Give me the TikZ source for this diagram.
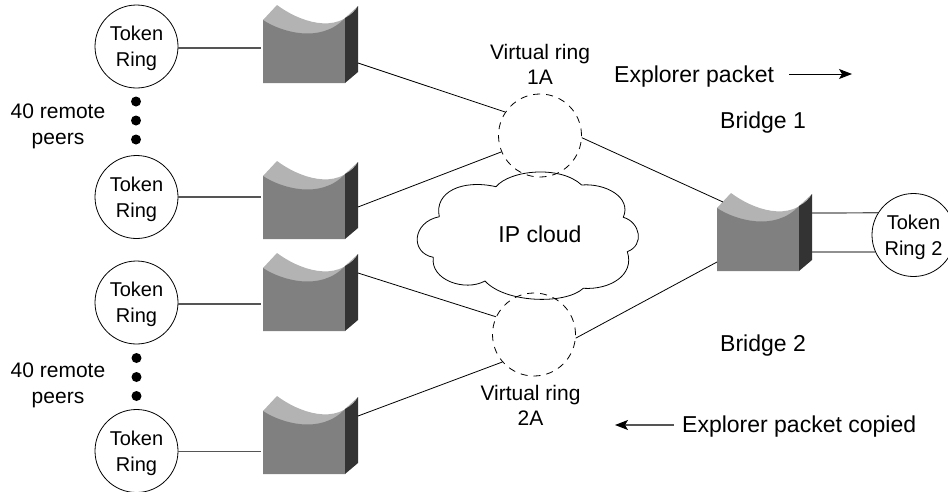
\documentclass[tikz,border=0pt]{standalone}
\usepackage{fontspec}
\setmainfont{Liberation Sans}
\usetikzlibrary{arrows.meta}
\definecolor{routerfront}{HTML}{808080}
\definecolor{routertop}{HTML}{B3B3B3}
\definecolor{routerside}{HTML}{333333}
\definecolor{lanline}{HTML}{555555}
\newcommand{\router}[5]{
    \begin{scope}[shift={(#2,#3)}]
    \fill[routertop](0,0)--(14,-15) .. controls (34,0) and (74,17) .. (95,-14)--(82,-2)--(82,20)--(0,20)--cycle;
    \fill[routerfront](0,0) .. controls (18,12) and (58,24) .. (82,-2)--(82,63)--(0,63)--cycle;
    \fill[routerside](82,-2) .. controls (88,-5) and (92,-9) .. (95,-14)--(95,52)--(82,63)--cycle;
    \coordinate (#1w) at (-2,#4);
    \coordinate (#1e) at (95,#5);
    \end{scope}
}
\tikzset{
    ring/.style={draw,line width=0.8pt,circle,fill=white,inner sep=0pt,minimum size=83pt,
        label={[align=center,inner sep=0pt,yshift=-2pt,font=\fontsize{20}{26}\selectfont]center:#1}},
    vring/.style={draw,line width=0.8pt,circle,dash pattern=on 7pt off 6pt,inner sep=0pt,minimum size=83pt},
    dot/.style={fill=black,circle,inner sep=0pt,minimum size=10pt},
    lab/.style={align=center,inner sep=0pt,font=\fontsize{23}{26}\selectfont},
    smalllab/.style={align=center,inner sep=0pt,font=\fontsize{21}{25}\selectfont},
    peerlab/.style={align=center,inner sep=0pt,font=\fontsize{21}{25.5}\selectfont},
    lan/.style={draw=lanline,line width=1.2pt},
    wan/.style={line width=0.8pt}
}

\begin{document}
\begin{tikzpicture}[x=1pt,y=-1pt]
    \clip(0,0) rectangle (948,491);
    \node[ring={Token\\Ring}] (tr1) at (136.5,46.5) {};
    \node[ring={Token\\Ring}] (tr2) at (136.5,197) {};
    \node[ring={Token\\Ring}] (tr3) at (136.5,302.5) {};
    \node[ring={Token\\Ring}] (tr4) at (136.5,451) {};
    \node[ring={Token\\Ring 2}] (tr5) at (913.5,235) {};
    \node[dot] (d1) at (136,101.5){};
    \node[dot] (d2) at (136,120.5){};
    \node[dot] (d3) at (136,139.5){};
    \node[dot] (d4) at (136.5,358){};
    \node[dot] (d5) at (136.5,377){};
    \node[dot] (d6) at (136.5,396){};
    \node[peerlab] (peers1) at (58,126.5) {40 remote\\peers};
    \node[peerlab] (peers2) at (58,385.5) {40 remote\\peers};
    \router{ra}{263}{20}{28}{43}
    \router{rb}{263}{176}{21}{31}
    \router{rc}{263}{268}{36}{5}
    \router{rd}{263}{411}{41}{5}
    \router{br}{717}{208}{54}{5}
    \coordinate (bra) at (723,202);
    \coordinate (brb) at (717,262);
    \coordinate (brc) at (812,213);
    \coordinate (brd) at (812,252);
    \draw[fill=white,line width=0.8pt](496,186.7) .. controls (510,170) and (560,165) .. (581.7,185)
        .. controls (605,183) and (632,197) .. (623.3,217.3)
        .. controls (640,222) and (645,245) .. (627.3,251.7)
        .. controls (635,275) and (610,290) .. (583.3,288.3)
        .. controls (565,305) and (505,303) .. (485,281)
        .. controls (465,292) and (430,280) .. (433.3,257.3)
        .. controls (410,253) and (412,222) .. (439.3,216.7)
        .. controls (434,192) and (462,179) .. (496,186.7);
    \node[vring] (vr1) at (540,135.5){};
    \node[vring] (vr2) at (534,334.5){};
    \draw[lan](tr1.-2)--(raw |- tr1.-2);
    \draw[lan](tr2.0)--(rbw |- tr2.0);
    \draw[lan](tr3.-2)--(rcw |- tr3.-2);
    \draw[lan](tr4.-1)--(rdw |- tr4.-1);
    \draw[lan](brc)--(tr5.148);
    \draw[lan](brd)--(tr5.204);
    \draw[wan](rae)--(vr1.146);
    \draw[wan](rbe)--(vr1.203);
    \draw[wan](rce)--(vr2.155);
    \draw[wan](rde)--(vr2.221);
    \draw[wan](vr1.-3)--(bra);
    \draw[wan](vr2.-5)--(brb);
    \node[lab] (cloud) at (540,234) {IP cloud};
    \node[smalllab] (vl1) at (540,64.5) {Virtual ring\\1A};
    \node[smalllab] (vl2) at (530.5,405) {Virtual ring\\2A};
    \node[lab,anchor=base west] (ep1) at (614,82) {Explorer packet};
    \node[lab,anchor=base west] (ep2) at (682,432) {Explorer packet copied};
    \node[lab,anchor=base west] (b1) at (720,128) {Bridge 1};
    \node[lab,anchor=base west] (b2) at (720,351) {Bridge 2};
    \coordinate (a1) at (789,74);
    \coordinate (a2) at (852,74);
    \coordinate (a3) at (674,425);
    \coordinate (a4) at (615,425);
    \draw[line width=0.9pt,-{Stealth[length=13pt,width=10pt,inset=3pt]}](a1)--(a2);
    \draw[lanline,line width=1.2pt,-{Stealth[length=13pt,width=10pt,inset=3pt,color=black]}](a3)--(a4);
\end{tikzpicture}
\end{document}
